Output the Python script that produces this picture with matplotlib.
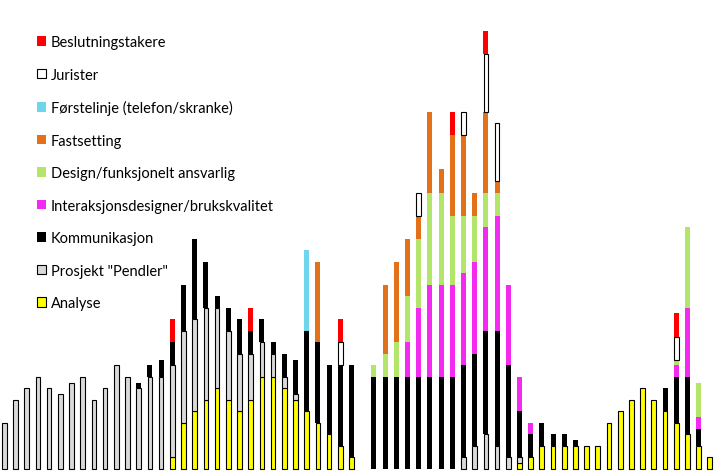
import numpy as np
import matplotlib
matplotlib.use('Agg')
import matplotlib.pyplot as plt

# one slot per period, slot 32 is empty
analyse = [0]*15 + [1, 4, 5, 6, 7, 6, 5, 6, 8, 8, 7, 6, 5, 4, 3, 2, 1] + [0] + [0]*13 + \
          [0.5, 1, 2, 2, 2, 2, 2, 2, 4, 5, 6, 7, 6, 5, 4, 3, 2, 1]
pendler = [4, 6, 7, 8, 7, 6.5, 7.5, 8, 6, 7, 9, 8, 7, 8, 8, 8, 8, 8, 8, 7, 6, 5, 4, 3, 2, 1, 0.5] + \
          [0]*14 + [1, 2, 3, 2, 1, 0.5] + [0]*17
kommunikasjon = [0]*12 + [0.5, 1, 1.5, 2, 4, 7, 4, 1, 2, 3, 2, 2, 1, 2, 3, 7, 7, 6, 7, 8, 0] + \
                [8, 8, 8, 8, 8, 8, 8, 8, 8, 8, 9, 10, 8, 4, 2, 2, 1, 1, 0.5] + [0]*7 + [2, 4, 5, 1.5, 0]
interaksjon = [0]*36 + [3, 6, 8, 8, 8, 8, 8, 9, 10, 7, 3, 1] + [0]*12 + [1, 6, 1, 0]
design = [0]*33 + [1, 2, 3, 4, 6, 8, 8, 6, 5, 4, 3, 2] + [0]*15 + [0.5, 7, 3, 0]
fastsetting = [0]*28 + [7] + [0]*5 + [6, 7, 5, 2, 7, 2, 7, 7, 2, 7, 1] + [0]*19
forstelinje = [0]*64
forstelinje[27] = 7
jurister = [0]*64
for i, v in [(30, 2), (37, 2), (41, 2), (43, 5), (44, 5), (60, 2)]:
    jurister[i] = v
beslutning = [0]*64
for i, v in [(15, 2), (22, 2), (30, 2), (40, 2), (43, 2), (60, 2)]:
    beslutning[i] = v

series = [
    ('Analyse', analyse, '#FFFF00', True),
    ('Prosjekt "Pendler"', pendler, '#D9D9D9', True),
    ('Kommunikasjon', kommunikasjon, '#000000', False),
    ('Interaksjonsdesigner/brukskvalitet', interaksjon, '#F52AF0', False),
    ('Design/funksjonelt ansvarlig', design, '#B3E56B', False),
    ('Fastsetting', fastsetting, '#E3711A', False),
    ('Førstelinje (telefon/skranke)', forstelinje, '#6DD5EC', False),
    ('Jurister', jurister, '#FFFFFF', True),
    ('Beslutningstakere', beslutning, '#FF0000', False),
]

fig = plt.figure(figsize=(7.17, 4.77), dpi=100)
ax = fig.add_axes([0, 0, 1, 1])
x = np.arange(64)
bottom = np.zeros(64)
handles = []
for name, vals, col, outlined in series:
    vals = np.array(vals, dtype=float)
    nz = vals > 0
    if outlined:
        b = ax.bar(x[nz], vals[nz], 0.42, bottom=bottom[nz], color=col, edgecolor='black',
                   linewidth=0.8, label=name)
    else:
        b = ax.bar(x[nz], vals[nz], 0.45, bottom=bottom[nz], color=col, linewidth=0, label=name)
    bottom += vals
    handles.append(b)

ax.set_xlim(-0.384, 63.64)
ax.set_ylim(-0.608, 40.8)
ax.axis('off')

leg = fig.legend(handles[::-1], [s[0] for s in series][::-1], loc='upper left',
                 bbox_to_anchor=(37/717, 1 - 36/477), frameon=False, borderpad=0, borderaxespad=0,
                 handlelength=0.65, handleheight=0.65, handletextpad=0.3, labelspacing=1.27,
                 prop={'family': 'Lato', 'size': 10.5})
for h in leg.legend_handles:
    h.set_linewidth(0.8)
    h.set_edgecolor('black' if h.get_facecolor()[:3] in [(1, 1, 0), (1, 1, 1)] or
                    abs(h.get_facecolor()[0] - 0.85) < 0.01 else 'none')

fig.savefig('out.png', dpi=100)
